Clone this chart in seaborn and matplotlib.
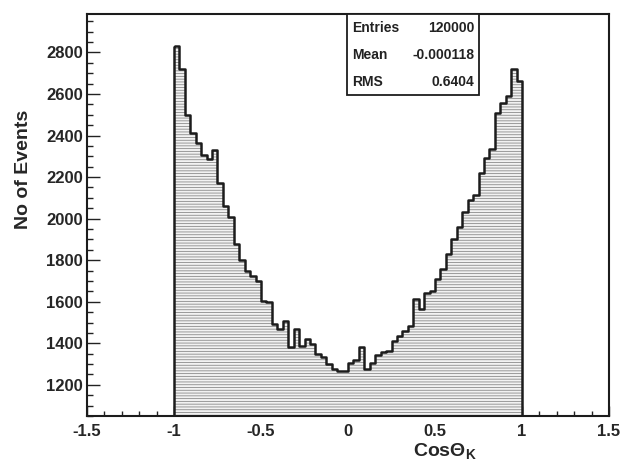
import numpy as np
import pandas as pd
import seaborn as sns
import matplotlib.pyplot as plt
from matplotlib.patches import Rectangle
from matplotlib.ticker import MultipleLocator, FormatStrFormatter

# histogram contents, 64 bins in [-1, 1]
counts = [2830, 2720, 2500, 2410, 2365, 2305, 2285, 2330, 2170, 2060,
          2010, 1880, 1800, 1750, 1722, 1698, 1602, 1598, 1492, 1468,
          1507, 1382, 1468, 1387, 1420, 1397, 1349, 1334, 1300, 1275,
          1265, 1268, 1305, 1320, 1380, 1275, 1305, 1345, 1360, 1365,
          1410, 1435, 1459, 1483, 1612, 1564, 1640, 1650, 1708, 1756,
          1830, 1900, 1960, 2030, 2091, 2115, 2220, 2290, 2335, 2508,
          2556, 2590, 2720, 2660]
x_range = (-1.0, 1.0)
stat_names = ['Entries', 'Mean', 'RMS']
stat_values = ['120000', '-0.000118', '0.6404']

edges = list(np.linspace(x_range[0], x_range[1], len(counts) + 1))
centers = [(a + b) / 2 for a, b in zip(edges[:-1], edges[1:])]
df = pd.DataFrame({'cos': centers, 'n': counts})

sns.set_theme(style='ticks')
plt.rcParams['font.family'] = ['Liberation Sans', 'DejaVu Sans']
plt.rcParams['font.weight'] = 'bold'
plt.rcParams['axes.unicode_minus'] = False
plt.rcParams['hatch.linewidth'] = 0.6
plt.rcParams['mathtext.fontset'] = 'custom'
plt.rcParams['mathtext.bf'] = 'Liberation Sans:bold'
plt.rcParams['mathtext.rm'] = 'Liberation Sans:bold'

fig = plt.figure(figsize=(6.23, 4.72), dpi=100)
ax = fig.add_axes([0.1396, 0.1186, 0.838, 0.8518])

# hatched fill
sns.histplot(data=df, x='cos', weights='n', bins=edges, element='step',
             fill=True, color='#8a8a8a', facecolor='#f2f2f2',
             edgecolor='#8a8a8a', linewidth=0, hatch='------', alpha=1,
             ax=ax)
# outline
sns.histplot(data=df, x='cos', weights='n', bins=edges, element='step',
             fill=True, color='#1c1c1c', facecolor='none',
             edgecolor='#1c1c1c', linewidth=1.8, ax=ax)

ax.set_xlim(-1.5, 1.5)
ax.set_ylim(1050, 2985)
ax.xaxis.set_major_locator(MultipleLocator(0.5))
ax.xaxis.set_minor_locator(MultipleLocator(0.1))
ax.yaxis.set_major_locator(MultipleLocator(200))
ax.yaxis.set_minor_locator(MultipleLocator(50))
ax.xaxis.set_major_formatter(FormatStrFormatter('%g'))
ax.yaxis.set_major_formatter(FormatStrFormatter('%g'))
ax.tick_params(which='both', direction='in', top=False, right=False,
               color='#222222', width=1)
ax.tick_params(axis='x', which='major', length=7)
ax.tick_params(axis='x', which='minor', length=3.5)
ax.tick_params(axis='y', which='major', length=9)
ax.tick_params(axis='y', which='minor', length=4.5)
ax.tick_params(axis='x', pad=6, labelsize=12)
ax.tick_params(axis='y', pad=3, labelsize=12)

for s in ax.spines.values():
    s.set_visible(True)
    s.set_linewidth(1.5)
    s.set_color('#1c1c1c')

ax.set_ylabel('No of Events', fontsize=14, fontweight='bold')
ax.yaxis.set_label_coords(-0.106, 0.613)
ax.set_xlabel('CosΘ$_{\\mathbf{K}}$', fontsize=14, fontweight='bold')
ax.xaxis.set_label_coords(0.686, -0.064)

# stats box
ax.add_patch(Rectangle((0.498, 0.799), 0.252, 0.201, transform=ax.transAxes,
                       facecolor='white', edgecolor='#1c1c1c', lw=1.3,
                       clip_on=False, zorder=5))
row_y = [0.965, 0.898, 0.831]
for name, val, yy in zip(stat_names, stat_values, row_y):
    ax.text(0.508, yy, name, transform=ax.transAxes, ha='left', va='center',
            fontsize=10, fontweight='bold', color='#222222', zorder=6)
    ax.text(0.742, yy, val, transform=ax.transAxes, ha='right', va='center',
            fontsize=10, fontweight='bold', color='#222222', zorder=6)

fig.savefig('out.png', dpi=100)
